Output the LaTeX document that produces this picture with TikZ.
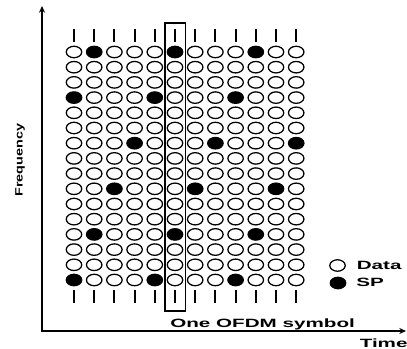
\documentclass[tikz,border=0pt]{standalone}
\usepackage{fontspec}
\setmainfont{Liberation Sans}
\newfontfamily\lblfont[FakeStretch=1.72]{Liberation Sans}
\newfontfamily\freqfont[FakeStretch=1.35]{Liberation Sans}
\usetikzlibrary{arrows.meta,shapes.geometric,positioning}
\tikzset{
 sub/.style={draw,ellipse,line width=0.95pt,minimum width=11.6pt,
             minimum height=8.6pt,inner sep=0pt},
 data/.style={sub,fill=white},
 pilot/.style={sub,fill=black},
 tick/.style={line width=1.5pt,dash pattern=on 2.6pt off 0.3pt},
 axis/.style={{Stealth[length=5pt,width=4.5pt]}-{Stealth[length=5pt,width=4.5pt]},
              line width=1.8pt},
 symbox/.style={draw,line width=1.1pt,minimum width=15.4pt,minimum height=216pt,
                inner sep=0pt},
 lbl/.style={font=\lblfont\bfseries\fontsize{9}{10.8}\selectfont,inner sep=0pt},
}

\begin{document}
\begin{tikzpicture}[x=0.75pt,y=-0.75pt]
\useasboundingbox (0,0) rectangle (407,349);
% subcarrier grid, scattered pilots every third row
\foreach \r in {1,...,16}{
  \foreach \c in {1,...,12}{
    \pgfmathtruncatemacro\k{(\r-1)/3}
    \pgfmathtruncatemacro\isp{and(mod(\r-1,3)==0,mod(\c+\k+2,4)==0)}
    \ifnum\isp=1 \def\st{pilot}\else\def\st{data}\fi
    \node[\st] (s-\r-\c) at ({74+(\c-1)*20.2},{52+(\r-1)*15.2}) {};
  }
}
% ticks above and below each symbol
\foreach \c in {1,...,12}{
  \draw[tick] (s-1-\c.north) ++(0,-4) -- ++(0,-13);
  \draw[tick] (s-16-\c.south) ++(0,4) -- ++(0,13);
}
\node[symbox] (win) at (175.2,167) {};
% axes
\coordinate (orig) at (42,331);
\coordinate (ftop) at (42,6);
\coordinate (tend) at (406,331);
\draw[axis] (ftop) -- (orig) -- (tend);
\node[lbl,font=\freqfont\bfseries\fontsize{8}{9.6}\selectfont,rotate=90,anchor=base west]
  (freq) at (22.7,197) {Frequency};
\node[lbl,anchor=base west] (time) at (359.5,347.5) {Time};
\node[lbl,anchor=base west] (sym) at (170,327) {One OFDM symbol};
% legend
\node[data] (kdata) at (337.5,265.5) {};
\node[pilot] (ksp) at (338,283) {};
\node[lbl,anchor=base west] (tdata) at (356.5,269.3) {Data};
\node[lbl,anchor=base west] (tsp) at (356,286.7) {SP};
\end{tikzpicture}
\end{document}
